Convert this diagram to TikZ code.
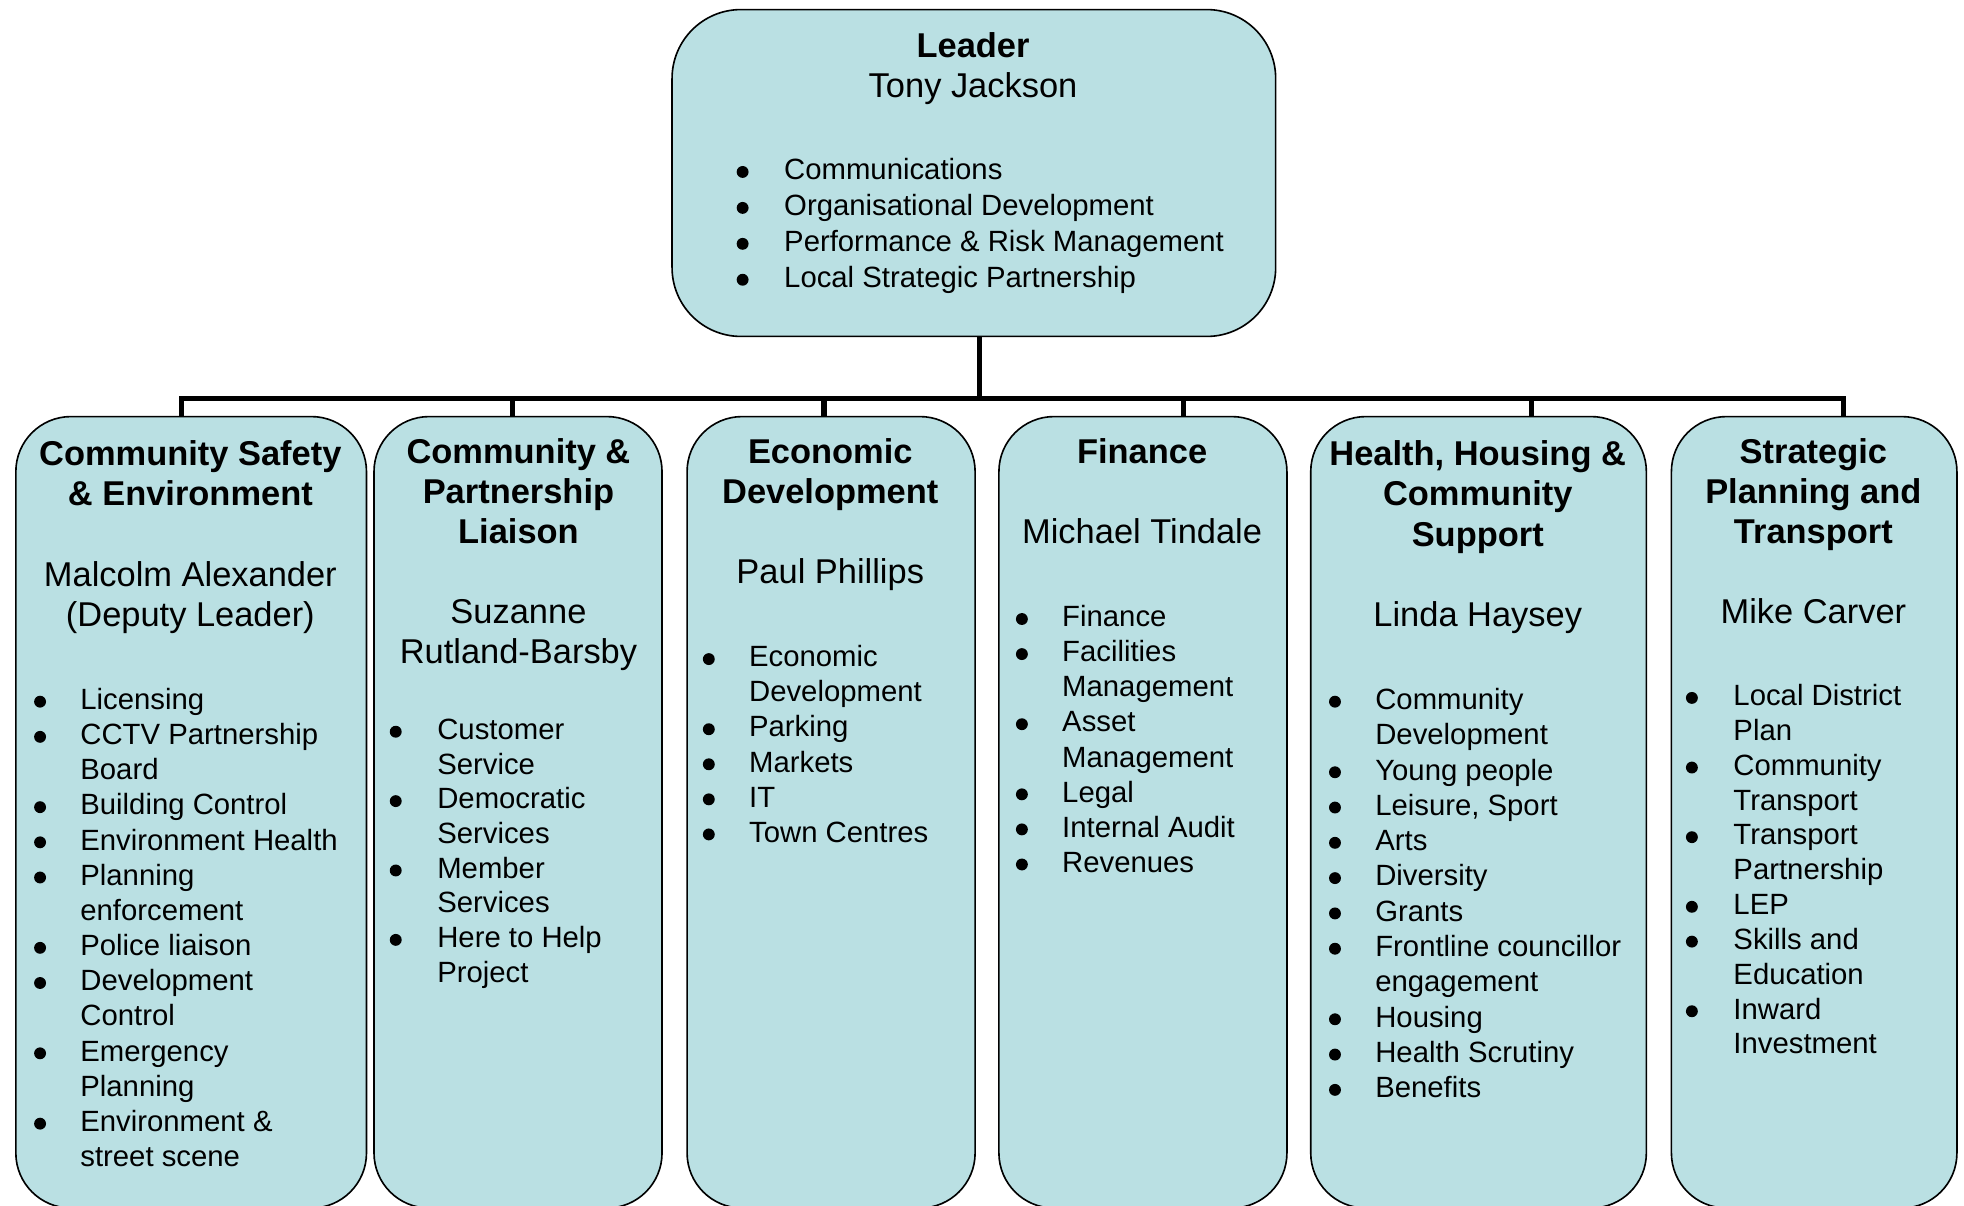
\documentclass[tikz,border=0pt]{standalone}
\usepackage{fontspec}
\setmainfont{Liberation Sans}
\definecolor{boxfill}{RGB}{186,224,227}
\newcommand\fitem{\fontsize{23.4}{28}\selectfont}
\newcommand\fhead{\fontsize{27.5}{32}\selectfont}
\newcommand\orgitems[6]{%
  \foreach \k/\b/\s in {#6}{%
    \node[itm] (#1l\k) at (#3, #4+#5*\k) {\s};
    \ifnum\b=1 \node[bul] (#1b\k) at (#2, #4+#5*\k-6.2) {};\fi
  }}
\tikzset{
  orgbox/.style={draw=black, line width=1.3pt, fill=boxfill, rectangle, rounded corners=44pt, inner sep=0pt, anchor=north west},
  conn/.style={draw=black, line width=4.2pt},
  itm/.style={inner sep=0pt, anchor=base west, font=\fitem},
  bul/.style={circle, fill=black, inner sep=0pt, minimum size=9.5pt},
  ttl/.style={inner sep=0pt, anchor=base, font=\fhead\bfseries},
  nme/.style={inner sep=0pt, anchor=base, font=\fhead},
}
\begin{document}
\begin{tikzpicture}[x=1pt,y=-1pt]
\useasboundingbox (0,0) rectangle (1568.3,963);
\clip (0,0) rectangle (1568.3,963);
% boxes
\node[orgbox, rounded corners=55pt, minimum width=482pt, minimum height=261pt] (leader) at (536,7) {};
\node[orgbox, minimum width=280pt, minimum height=632pt] (box1) at (12,332) {};
\node[orgbox, minimum width=230pt, minimum height=632pt] (box2) at (298,332) {};
\node[orgbox, minimum width=230pt, minimum height=632pt] (box3) at (548,332) {};
\node[orgbox, minimum width=230pt, minimum height=632pt] (box4) at (797,332) {};
\node[orgbox, minimum width=268pt, minimum height=632pt] (box5) at (1046,332) {};
\node[orgbox, minimum width=228pt, minimum height=632pt] (box6) at (1334,332) {};
% connectors
\coordinate (s0) at (782,318);
\coordinate (s1) at (145,318);
\coordinate (s2) at (409,318);
\coordinate (s3) at (658,318);
\coordinate (s4) at (945,318);
\coordinate (s5) at (1223,318);
\coordinate (s6) at (1472,318);
\draw[conn] (leader.south -| s0) -- (s0);
\draw[conn, line join=miter] (box1.north -| s1) -- (s1) -- (s6) -- (box6.north -| s6);
\draw[conn] (s2) -- (box2.north -| s2);
\draw[conn] (s3) -- (box3.north -| s3);
\draw[conn] (s4) -- (box4.north -| s4);
\draw[conn] (s5) -- (box5.north -| s5);
% leader text
\node[ttl] (lt) at (777,46) {Leader};
\node[nme] (ln) at (777,78) {Tony Jackson};
\orgitems{ld}{593}{626}{143.5}{28.7}{0/1/Communications, 1/1/Organisational Development, 2/1/Performance \& Risk Management, 3/1/Local Strategic Partnership}
% box 1
\node[ttl] (b1t1) at (152,372) {Community Safety};
\node[ttl] (b1t2) at (152,404) {\& Environment};
\node[nme] (b1n1) at (152,468) {Malcolm Alexander};
\node[nme] (b1n2) at (152,500) {(Deputy Leader)};
\orgitems{bA}{32}{64}{566.5}{28.08}{0/1/Licensing, 1/1/CCTV Partnership, 2/0/Board, 3/1/Building Control, 4/1/Environment Health, 5/1/Planning, 6/0/enforcement, 7/1/Police liaison, 8/1/Development, 9/0/Control, 10/1/Emergency, 11/0/Planning, 12/1/Environment \&, 13/0/street scene}
% box 2
\node[ttl] (b2t1) at (414,370) {Community \&};
\node[ttl] (b2t2) at (414,402) {Partnership};
\node[ttl] (b2t3) at (414,434) {Liaison};
\node[nme] (b2n1) at (414,498) {Suzanne};
\node[nme] (b2n2) at (414,530) {Rutland-Barsby};
\orgitems{bB}{316}{349}{590.5}{27.7}{0/1/Customer, 1/0/Service, 2/1/Democratic, 3/0/Services, 4/1/Member, 5/0/Services, 6/1/Here to Help, 7/0/Project}
% box 3
\node[ttl] (b3t1) at (663,370) {Economic};
\node[ttl] (b3t2) at (663,402) {Development};
\node[nme] (b3n1) at (663,466) {Paul Phillips};
\orgitems{bC}{566}{598}{532.5}{28}{0/1/Economic, 1/0/Development, 2/1/Parking, 3/1/Markets, 4/1/IT, 5/1/Town Centres}
% box 4
\node[ttl] (b4t1) at (912,370) {Finance};
\node[nme] (b4n1) at (912,434) {Michael Tindale};
\orgitems{bD}{816}{848}{500.5}{28}{0/1/Finance, 1/1/Facilities, 2/0/Management, 3/1/Asset, 4/0/Management, 5/1/Legal, 6/1/Internal Audit, 7/1/Revenues}
% box 5
\node[ttl] (b5t1) at (1180,372) {Health, Housing \&};
\node[ttl] (b5t2) at (1180,404) {Community};
\node[ttl] (b5t3) at (1180,436) {Support};
\node[nme] (b5n1) at (1180,500) {Linda Haysey};
\orgitems{bE}{1066}{1098}{566.5}{28.18}{0/1/Community, 1/0/Development, 2/1/Young people, 3/1/{Leisure, Sport}, 4/1/Arts, 5/1/Diversity, 6/1/Grants, 7/1/Frontline councillor, 8/0/engagement, 9/1/Housing, 10/1/Health Scrutiny, 11/1/Benefits}
% box 6
\node[ttl] (b6t1) at (1448,370) {Strategic};
\node[ttl] (b6t2) at (1448,402) {Planning and};
\node[ttl] (b6t3) at (1448,434) {Transport};
\node[nme] (b6n1) at (1448,498) {Mike Carver};
\orgitems{bF}{1351}{1384}{563.5}{27.8}{0/1/Local District, 1/0/Plan, 2/1/Community, 3/0/Transport, 4/1/Transport, 5/0/Partnership, 6/1/LEP, 7/1/Skills and, 8/0/Education, 9/1/Inward, 10/0/Investment}
\end{tikzpicture}
\end{document}
